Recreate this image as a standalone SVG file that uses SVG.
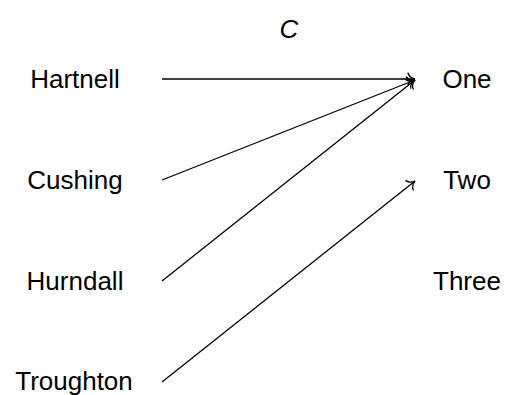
<svg xmlns="http://www.w3.org/2000/svg" width="505" height="395" viewBox="0 0 505 395">
<style>
text{font-family:"Liberation Sans",Arial,sans-serif;font-size:26px;fill:#000;text-anchor:middle}
.e{stroke:#000;stroke-width:1.3;fill:none}
</style>
<defs>
<marker id="to" markerUnits="userSpaceOnUse" markerWidth="20" markerHeight="20" viewBox="-10 -10 20 20" refX="0" refY="0" orient="auto" overflow="visible">
<path d="M-7,-6 C-6,-2.7 -2.7,-0.6 0,0 C-2.7,0.6 -6,2.7 -7,6" fill="none" stroke="#000" stroke-width="1.3" stroke-linecap="round"/>
</marker>
</defs>
<text x="289" y="38" font-style="italic">C</text>
<g id="hartnell"><text x="75" y="88">Hartnell</text></g>
<g id="cushing"><text x="75" y="189">Cushing</text></g>
<g id="hurndall"><text x="75" y="290">Hurndall</text></g>
<g id="troughton"><text x="74" y="390">Troughton</text></g>
<g id="one"><text x="467" y="88">One</text></g>
<g id="two"><text x="467" y="189">Two</text></g>
<g id="three"><text x="467" y="290">Three</text></g>
<g id="edges">
<line class="e" x1="162" y1="79" x2="415" y2="79" marker-end="url(#to)"/>
<line class="e" x1="162" y1="180" x2="415" y2="80" marker-end="url(#to)"/>
<line class="e" x1="162" y1="281" x2="415" y2="80" marker-end="url(#to)"/>
<line class="e" x1="162" y1="382" x2="415" y2="181" marker-end="url(#to)"/>
</g>
</svg>
